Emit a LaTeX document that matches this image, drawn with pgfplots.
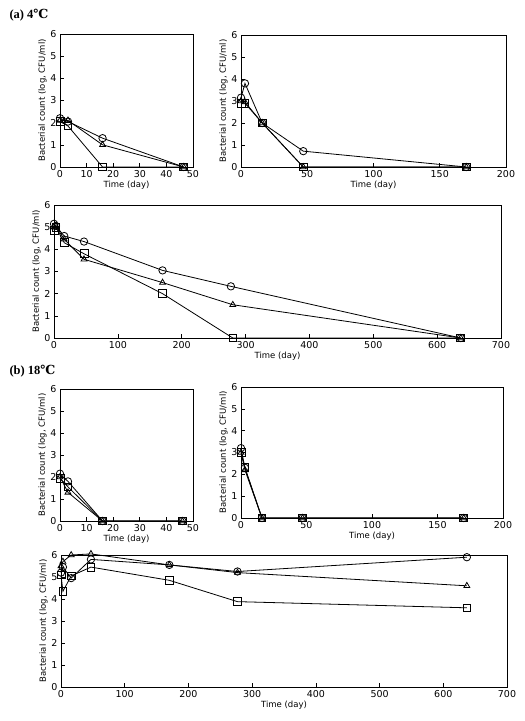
\documentclass[border=0pt]{standalone}
\usepackage{fontspec}
\setmainfont{DejaVu Sans}
\newfontfamily\titlefont{Liberation Serif}
\newfontfamily\degfont{DejaVu Serif}
\usepackage{pgfplots}
\pgfplotsset{compat=1.18}
\pgfplotsset{
  panel/.style={
    scale only axis, anchor=south west, clip=false,
    ymin=0, ymax=6, ytick={0,1,2,3,4,5,6},
    tick align=inside, tick pos=left,
    major tick length=4pt,
    tick style={black, line width=0.6pt},
    axis line style={line width=0.7pt},
    label style={font=\fontsize{8.5}{9}\selectfont},
    ticklabel style={font=\fontsize{9.5}{10}\selectfont},
    /pgf/number format/assume math mode=true,
    ylabel={Bacterial count (log, CFU/ml)},
    xlabel={Time (day)},
    xlabel style={yshift=4pt},
    ylabel style={yshift=-3pt},
    every axis plot/.append style={black, line width=0.8pt, mark options={solid}},
  },
  circ/.style={mark=o, mark size=3.7},
  tri/.style={mark=triangle, mark size=3.4},
  sq/.style={mark=square, mark size=3.9},
}
\begin{document}
\begin{tikzpicture}[x=1pt,y=1pt]
\path (0,0) rectangle (525,721);
\node[anchor=west, font=\fontsize{12.5}{13}\selectfont] at (6,706) {\titlefont\bfseries (a) 4{\degfont\bfseries ℃}};
\node[anchor=west, font=\fontsize{12.5}{13}\selectfont] at (6,350) {\titlefont\bfseries (b) 18{\degfont\bfseries ℃}};

% (a) panel 1
\begin{axis}[panel, at={(60pt,554pt)}, width=133pt, height=133pt,
  xmin=0, xmax=50, xtick={0,10,...,50}]
\addplot[circ] coordinates {(0,2.2) (3,2.05) (16,1.3) (46.5,0)};
\addplot[tri] coordinates {(0,2.1) (3,2.1) (16,1.0) (46.5,0)};
\addplot[sq] coordinates {(0,2.05) (3,1.85) (16,0) (46.5,0)};
\end{axis}

% (a) panel 2
\begin{axis}[panel, at={(241pt,554pt)}, width=265pt, height=132pt,
  xmin=0, xmax=200, xtick={0,50,...,200}]
\addplot[circ] coordinates {(0,3.15) (3,3.8) (16,2.0) (47,0.72) (170,0)};
\addplot[tri] coordinates {(0,3.0) (3,2.95) (16,2.0) (47,0) (170,0)};
\addplot[sq] coordinates {(0,2.9) (3,2.9) (16,2.0) (47,0) (170,0)};
\end{axis}

% (a) panel 3
\begin{axis}[panel, at={(54pt,383pt)}, width=447pt, height=133pt,
  xmin=0, xmax=700, xtick={0,100,...,700}]
\addplot[circ] coordinates {(0,5.15) (3,5.05) (16,4.6) (47,4.35) (170,3.05) (277,2.33) (637,0)};
\addplot[tri] coordinates {(0,5.0) (3,5.05) (16,4.45) (47,3.55) (170,2.5) (280,1.5) (637,0)};
\addplot[sq] coordinates {(0,4.85) (3,5.0) (16,4.3) (47,3.8) (170,2.0) (280,0) (637,0)};
\end{axis}

% (b) panel 4
\begin{axis}[panel, at={(60pt,200pt)}, width=133pt, height=132pt,
  xmin=0, xmax=50, xtick={0,10,...,50}]
\addplot[circ] coordinates {(0,2.15) (3,1.8) (16,0) (46,0)};
\addplot[tri] coordinates {(0,2.0) (3,1.3) (16,0) (46,0)};
\addplot[sq] coordinates {(0,1.95) (3,1.55) (16,0) (46,0)};
\end{axis}

% (b) panel 5
\begin{axis}[panel, at={(241pt,203pt)}, width=262pt, height=131pt,
  xmin=0, xmax=200, xtick={0,50,...,200}]
\addplot[circ] coordinates {(0,3.2) (3,2.3) (16,0) (47,0) (170,0)};
\addplot[tri] coordinates {(0,3.0) (3,2.2) (16,0) (47,0) (170,0)};
\addplot[sq] coordinates {(0,3.0) (3,2.3) (16,0) (47,0) (170,0)};
\end{axis}

% (b) panel 6
\begin{axis}[panel, at={(61pt,34pt)}, width=446pt, height=132pt,
  xmin=0, xmax=700, xtick={0,100,...,700}]
\addplot[circ] coordinates {(0,5.2) (3,5.45) (16,4.95) (47,5.8) (170,5.55) (277,5.25) (637,5.9)};
\addplot[tri] coordinates {(0,5.5) (3,5.7) (16,6.0) (47,6.05) (170,5.55) (277,5.2) (637,4.6)};
\addplot[sq] coordinates {(0,5.1) (3,4.35) (16,5.05) (47,5.45) (170,4.85) (277,3.88) (637,3.6)};
\end{axis}
\end{tikzpicture}
\end{document}
